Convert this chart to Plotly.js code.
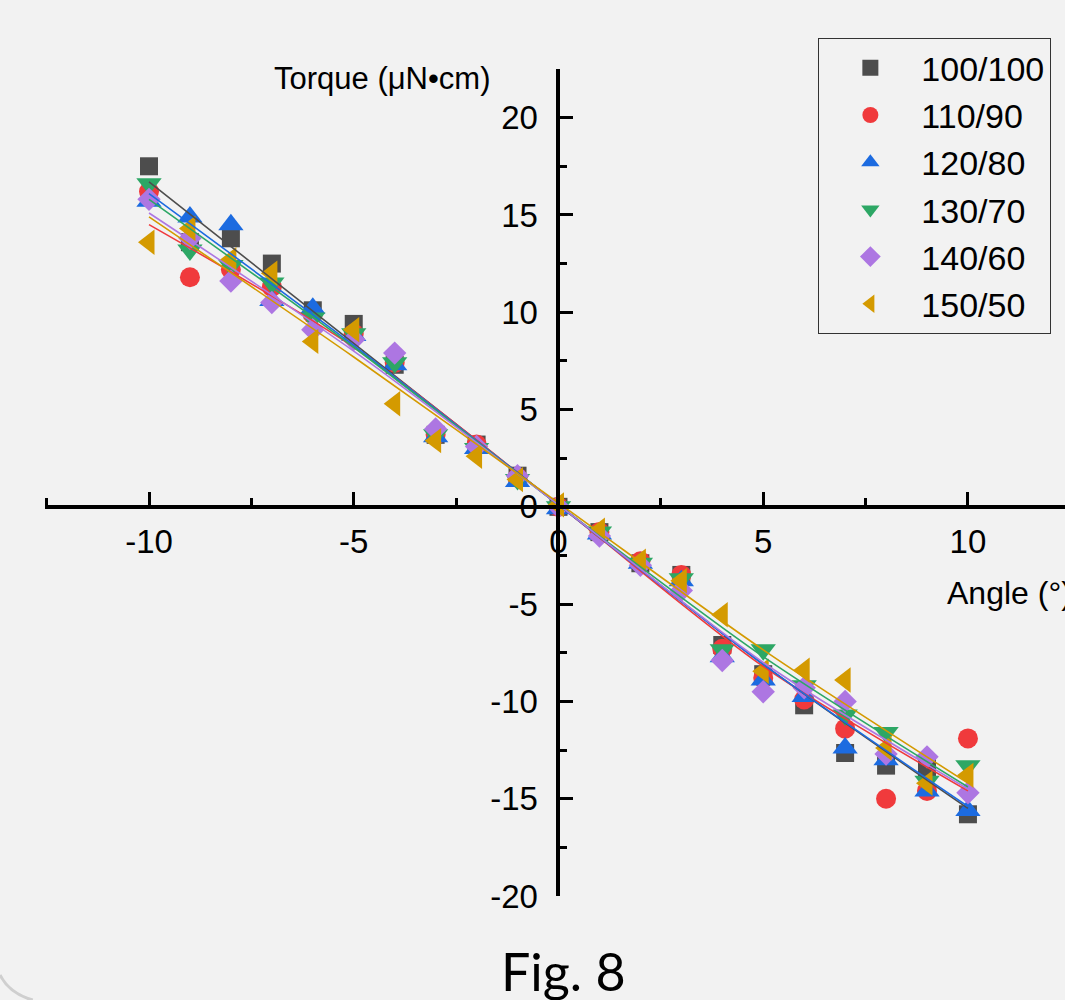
<!DOCTYPE html>
<html>
<head>
<meta charset="utf-8">
<script src="https://cdn.plot.ly/plotly-3.0.1.min.js"></script>
<style>
  html, body { margin: 0; padding: 0; background: #f2f2f2; }
  #chart { width: 1065px; height: 1000px; }
</style>
</head>
<body>
<div id="chart"></div>
<script>
// ---- data ----
const angles = [-10, -9, -8, -7, -6, -5, -4, -3, -2, -1, 0, 1, 2, 3, 4, 5, 6, 7, 8, 9, 10];

const seriesNames = ["100/100", "110/90", "120/80", "130/70", "140/60", "150/50"];

const torque100_100 = [17.5, 13.6, 13.8, 12.5, 10.1, 9.4, 7.3, 3.7, 3.2, 1.6, 0.0, -1.3, -2.9, -3.5, -7.1, -8.6, -10.2, -12.65, -13.3, -13.4, -15.8];
const torque110_90  = [16.2, 11.8, 12.2, 11.3, 9.9, 8.9, 7.4, 3.7, 3.2, 1.5, 0.0, -1.3, -2.8, -3.5, -7.3, -8.8, -9.9, -11.4, -15.0, -14.6, -11.9];
const torque120_80  = [15.7, 14.9, 14.5, 10.6, 10.2, 8.8, 7.3, 3.6, 3.0, 1.3, -0.1, -1.4, -2.9, -3.8, -7.7, -8.9, -9.75, -12.4, -13.0, -14.6, -15.6];
const torque130_70  = [16.6, 13.2, 12.4, 11.5, 9.7, 8.9, 7.4, 3.7, 3.0, 1.4, 0.0, -1.3, -2.9, -3.7, -7.35, -7.35, -9.2, -10.7, -11.6, -14.1, -13.3];
const torque140_60  = [15.8, 13.8, 11.6, 10.5, 9.1, 8.6, 7.9, 4.0, 3.1, 1.6, 0.0, -1.5, -3.0, -4.3, -7.9, -9.5, -9.3, -10.0, -12.7, -12.85, -14.7];
const torque150_50  = [13.6, 14.3, 12.7, 12.0, 8.5, 9.1, 5.3, 3.4, 2.6, 1.4, 0.1, -1.2, -2.8, -3.8, -5.55, -8.45, -8.4, -8.9, -12.4, -14.2, -13.8];

// fitted curves at these angles
const fitAngles = [-10, -5, 0, 5, 10];
const fit100_100 = [16.7, 8.4, 0.1, -8.1, -15.5];
const fit110_90  = [14.5, 8.2, 0.1, -8.2, -14.6];
const fit120_80  = [16.1, 8.3, 0.1, -8.1, -15.4];
const fit130_70  = [15.8, 8.2, 0.1, -7.7, -14.4];
const fit140_60  = [15.1, 8.0, 0.1, -8.0, -14.5];
const fit150_50  = [14.9, 7.7, 0.2, -7.35, -14.2];

// tick labels
const xTickVals = [-10, -5, 0, 5, 10];
const xTickText = ["-10", "-5", "0", "5", "10"];
const yTickVals = [-20, -15, -10, -5, 0, 5, 10, 15, 20];
const yTickText = ["-20", "-15", "-10", "-5", "0", "5", "10", "15", "20"];

// ---- styles ----
const colors  = ["#4d4d4d", "#f03a3c", "#1c6be0", "#2da765", "#ad76e2", "#d49a00"];
const symbols = ["square", "circle", "triangle-up", "triangle-down", "diamond", "triangle-left"];
const sizes   = [18, 20, 22, 22, 18, 22];

const torqueSeries = [torque100_100, torque110_90, torque120_80, torque130_70, torque140_60, torque150_50];
const fitSeries    = [fit100_100, fit110_90, fit120_80, fit130_70, fit140_60, fit150_50];

const traces = [];
torqueSeries.forEach((ys, i) => {
  traces.push({
    type: "scatter", mode: "markers", x: angles, y: ys,
    name: seriesNames[i], legendgroup: "g" + i,
    marker: { symbol: symbols[i], color: colors[i], size: sizes[i], line: { width: 0 } },
    cliponaxis: false
  });
});
fitSeries.forEach((ys, i) => {
  traces.push({
    type: "scatter", mode: "lines", x: fitAngles, y: ys,
    showlegend: false, legendgroup: "g" + i, hoverinfo: "skip",
    line: { color: colors[i], width: 1.6, shape: "spline", smoothing: 0.8 }
  });
});

const xr = [-12.54, 12.37];
const yr = [-20, 22.5];

const layout = {
  width: 1065, height: 1000,
  paper_bgcolor: "#f2f2f2", plot_bgcolor: "#f2f2f2",
  margin: { l: 45, r: 0, t: 69, b: 104 },
  font: { family: "Liberation Sans, Arial, sans-serif", color: "#000" },
  showlegend: true,
  xaxis: {
    range: xr, anchor: "free", position: (0 - yr[0]) / (yr[1] - yr[0]),
    showgrid: false, zeroline: false,
    showline: true, linecolor: "#000", linewidth: 4,
    tickmode: "array", tickvals: xTickVals, ticktext: xTickText,
    ticks: "inside", ticklen: 13, tickwidth: 3, tickcolor: "#000",
    minor: { ticks: "inside", ticklen: 7, tickwidth: 3, tickcolor: "#000", dtick: 2.5, tick0: 0, showgrid: false },
    tickfont: { size: 33, family: "Liberation Sans, Arial, sans-serif" },
    ticklabelstandoff: 5
  },
  yaxis: {
    range: yr, anchor: "free", position: (0 - xr[0]) / (xr[1] - xr[0]),
    showgrid: false, zeroline: false,
    showline: true, linecolor: "#000", linewidth: 4,
    tickmode: "array", tickvals: yTickVals, ticktext: yTickText,
    ticks: "inside", ticklen: 13, tickwidth: 3, tickcolor: "#000",
    minor: { ticks: "inside", ticklen: 7, tickwidth: 3, tickcolor: "#000", dtick: 2.5, tick0: 0, showgrid: false },
    tickfont: { size: 33, family: "Liberation Sans, Arial, sans-serif" },
    ticklabelstandoff: 12
  },
  legend: {
    x: 0.758, y: 1.0375, xanchor: "left", yanchor: "top",
    bgcolor: "rgba(0,0,0,0)", bordercolor: "#333", borderwidth: 1.2,
    font: { size: 34, family: "Liberation Sans, Arial, sans-serif", color: "#000" },
    tracegroupgap: 0, traceorder: "grouped", itemwidth: 92
  },
  shapes: [
    { type: "path", xref: "paper", yref: "paper",
      path: "M -0.0441,-0.0955 Q -0.035,-0.118 -0.012,-0.1258",
      line: { color: "#cfcfcf", width: 3 } }
  ],
  annotations: [
    { text: "Torque (\u03bcN\u2022cm)", xref: "paper", yref: "paper", x: 0.438, y: 0.989,
      xanchor: "right", yanchor: "middle", showarrow: false,
      font: { size: 31, family: "Liberation Sans, Arial, sans-serif" } },
    { text: "Angle (\u00b0)", xref: "paper", yref: "paper", x: 0.882, y: 0.3664,
      xanchor: "left", yanchor: "middle", showarrow: false,
      font: { size: 32, family: "Liberation Sans, Arial, sans-serif" } },
    { text: "Fig. 8", xref: "paper", yref: "paper", x: 0.508, y: -0.0905,
      xanchor: "center", yanchor: "middle", showarrow: false,
      font: { size: 52, family: "Lato, Open Sans, sans-serif" } }
  ]
};

Plotly.newPlot("chart", traces, layout, { displayModeBar: false, staticPlot: true });
</script>
</body>
</html>
